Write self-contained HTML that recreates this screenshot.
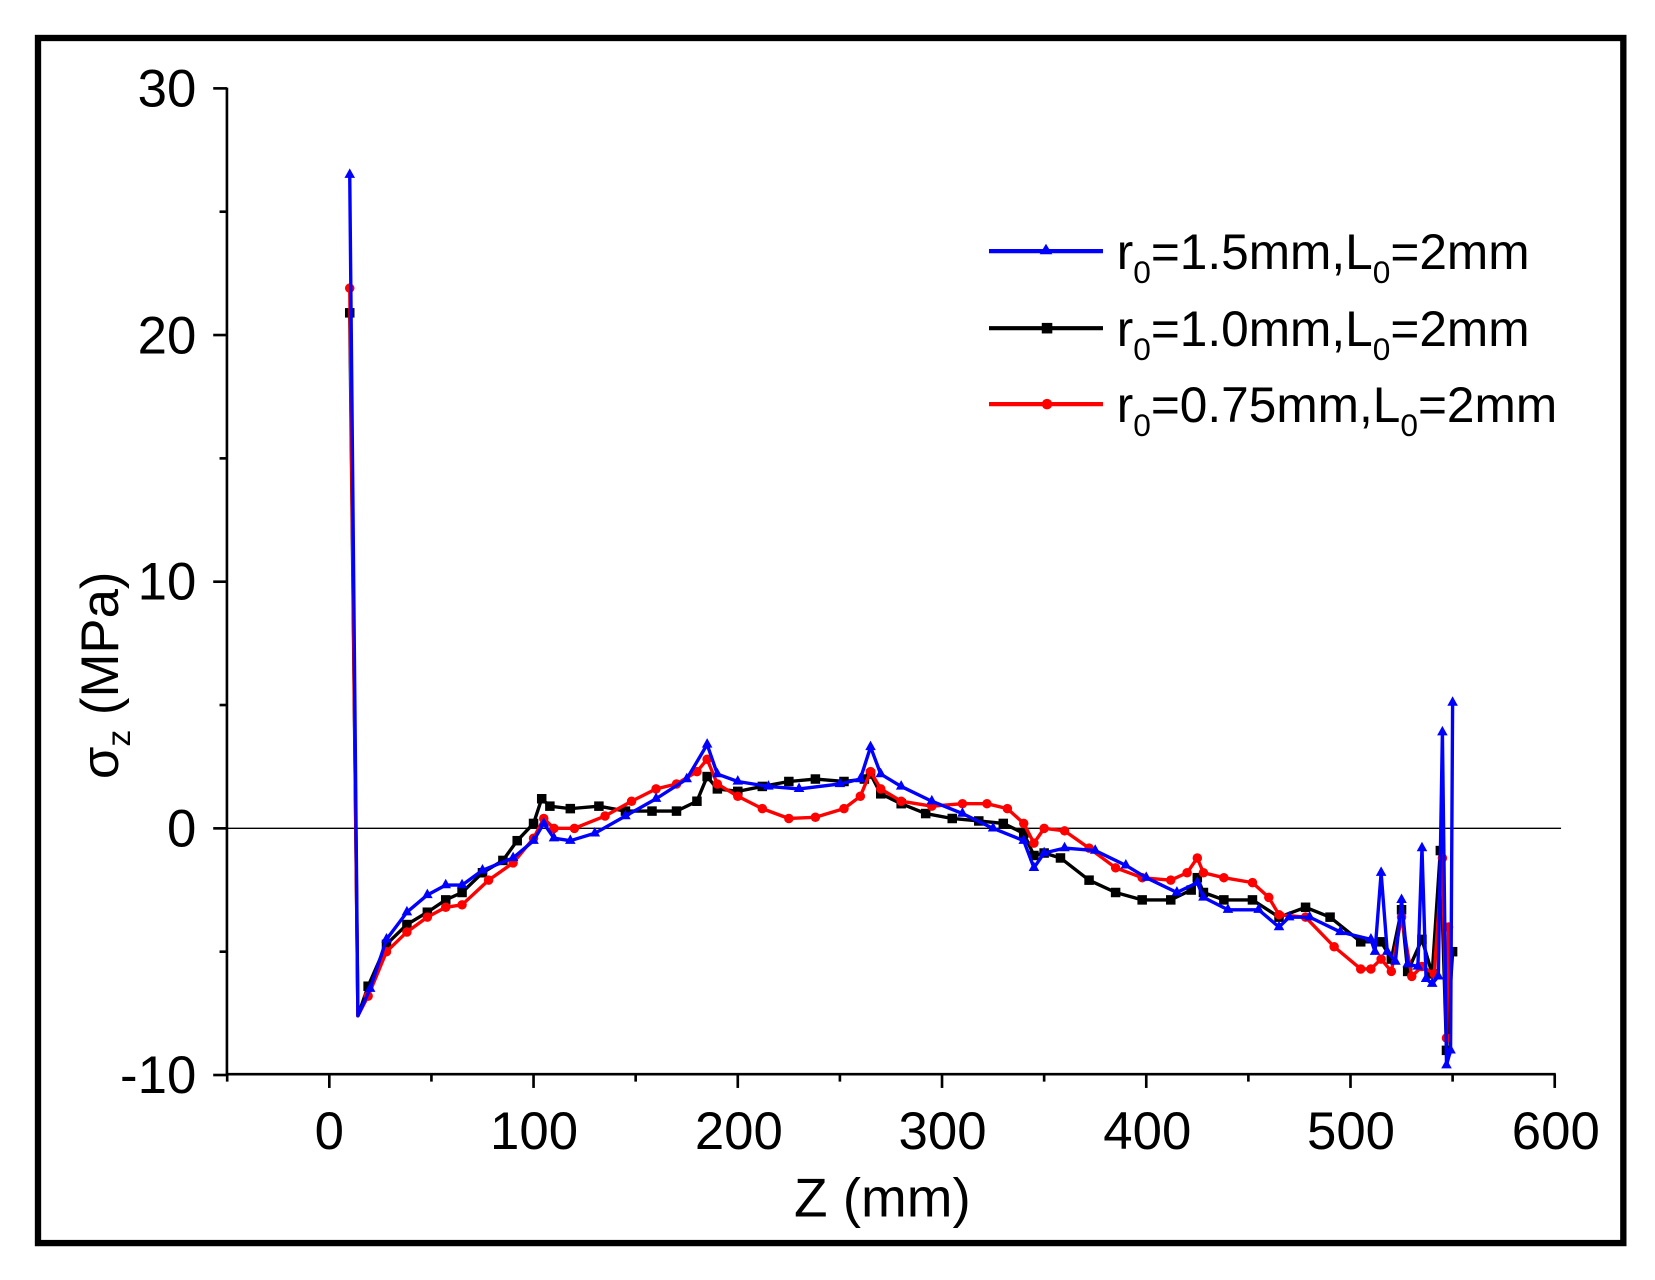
<!DOCTYPE html>
<html><head><meta charset="utf-8"><style>
html,body{margin:0;padding:0;background:#fff;width:1655px;height:1280px;overflow:hidden}
svg text{font-family:"Liberation Sans",sans-serif;fill:#000}
</style></head><body>
<svg id="s" width="1655" height="1280" viewBox="0 0 1568 1213" preserveAspectRatio="none" xmlns="http://www.w3.org/2000/svg">
<rect x="36" y="36" width="1502" height="1142" fill="none" stroke="#000" stroke-width="6"/>
<g id="ax" stroke="#000" stroke-width="2.5" fill="none"></g>
<line x1="215" y1="785" x2="1479" y2="785" stroke="#000" stroke-width="1.3"/>
<g id="data"></g>
<g font-size="50" text-anchor="end">
<text x="186" y="101">30</text><text x="186" y="335">20</text><text x="186" y="568">10</text><text x="186" y="802">0</text><text x="186" y="1036">-10</text>
</g>
<g font-size="50" text-anchor="middle">
<text x="312" y="1089">0</text><text x="506" y="1089">100</text><text x="700" y="1089">200</text><text x="893" y="1089">300</text><text x="1087" y="1089">400</text><text x="1280" y="1089">500</text><text x="1474" y="1089">600</text>
</g>
<text x="836" y="1153" font-size="52" text-anchor="middle">Z (mm)</text>
<text transform="translate(112,640) rotate(-90)" font-size="50" text-anchor="middle">σ<tspan font-size="32" dy="11">z</tspan><tspan dy="-11"> (MPa)</tspan></text>
<g font-size="47">
<line x1="937" y1="238" x2="1045" y2="238" stroke="#0000ff" stroke-width="4"/><path d="M991,231 l6,10 h-12z" fill="#0000ff"/>
<text x="1058" y="255">r<tspan font-size="30" dy="13">0</tspan><tspan dy="-13">=1.5mm,L</tspan><tspan font-size="30" dy="13">0</tspan><tspan dy="-13">=2mm</tspan></text>
<line x1="937" y1="311" x2="1045" y2="311" stroke="#000" stroke-width="4"/><rect x="987" y="306" width="10" height="10" fill="#000"/>
<text x="1058" y="328">r<tspan font-size="30" dy="13">0</tspan><tspan dy="-13">=1.0mm,L</tspan><tspan font-size="30" dy="13">0</tspan><tspan dy="-13">=2mm</tspan></text>
<line x1="937" y1="383" x2="1045" y2="383" stroke="#ff0000" stroke-width="4"/><circle cx="992" cy="383" r="5" fill="#ff0000"/>
<text x="1058" y="400">r<tspan font-size="30" dy="13">0</tspan><tspan dy="-13">=0.75mm,L</tspan><tspan font-size="30" dy="13">0</tspan><tspan dy="-13">=2mm</tspan></text>
</g>
</svg>
<script>
function px(z){return 312+1.935*z}function py(s){return 785-23.375*s}
var ax=document.getElementById('ax'),h='';
h+='<line x1="215" y1="83" x2="215" y2="1019"/><line x1="214" y1="1018" x2="1474" y2="1018"/>';
for(var v=-10;v<=30;v+=5){var y=py(v),L=(v%10==0)?13:7;h+='<line x1="'+(215-L)+'" y1="'+y+'" x2="215" y2="'+y+'"/>';}
for(var z=-50;z<=600;z+=50){var x=px(z),L=(z%100==0)?13:7;h+='<line x1="'+x+'" y1="1018" x2="'+x+'" y2="'+(1018+L)+'"/>';}
ax.innerHTML=h;
var blue=[[10,26.5],[14,-7.6],[20,-6.5],[28,-4.5],[38,-3.4],[48,-2.7],[57,-2.3],[65,-2.3],[75,-1.7],[90,-1.2],[100,-0.5],[105,0.2],[110,-0.4],[118,-0.5],[130,-0.2],[145,0.5],[160,1.2],[175,2],[185,3.4],[190,2.2],[200,1.9],[215,1.7],[230,1.6],[250,1.8],[260,2],[265,3.3],[270,2.2],[280,1.7],[295,1.1],[310,0.6],[325,0],[340,-0.5],[345,-1.6],[350,-1],[360,-0.8],[375,-0.9],[390,-1.5],[400,-2],[415,-2.6],[425,-2.2],[428,-2.8],[440,-3.3],[455,-3.3],[465,-4],[470,-3.6],[480,-3.6],[495,-4.2],[510,-4.5],[512,-5],[515,-1.8],[518,-5],[522,-5.4],[525,-2.9],[528,-5.5],[533,-5.6],[535,-0.8],[537,-6.1],[540,-6.3],[543,-6],[545,3.9],[547,-9.6],[549,-9],[550,5.1]];
var black=[[10,20.9],[14,-7.6],[19,-6.4],[28,-4.7],[38,-3.9],[48,-3.4],[57,-2.9],[65,-2.6],[75,-1.8],[85,-1.3],[92,-0.5],[100,0.2],[104,1.2],[108,0.9],[118,0.8],[132,0.9],[145,0.7],[158,0.7],[170,0.7],[180,1.1],[185,2.1],[190,1.6],[200,1.5],[212,1.7],[225,1.9],[238,2],[252,1.9],[262,2],[265,2.2],[270,1.4],[280,1.0],[292,0.6],[305,0.4],[318,0.3],[330,0.2],[340,-0.2],[345,-1.1],[350,-1],[358,-1.2],[372,-2.1],[385,-2.6],[398,-2.9],[412,-2.9],[422,-2.5],[425,-2.0],[428,-2.6],[438,-2.9],[452,-2.9],[465,-3.6],[478,-3.2],[490,-3.6],[505,-4.6],[515,-4.6],[520,-5.3],[525,-3.3],[528,-5.8],[535,-4.5],[540,-5.9],[544,-0.9],[547,-9],[550,-5]];
var red=[[10,21.9],[14,-7.6],[19,-6.8],[28,-5],[38,-4.2],[48,-3.6],[57,-3.2],[65,-3.1],[78,-2.1],[90,-1.4],[100,-0.4],[105,0.4],[110,0],[120,0],[135,0.5],[148,1.1],[160,1.6],[170,1.8],[180,2.3],[185,2.8],[190,1.8],[200,1.3],[212,0.8],[225,0.4],[238,0.45],[252,0.8],[260,1.3],[265,2.3],[270,1.6],[280,1.1],[295,0.9],[310,1.0],[322,1.0],[332,0.8],[340,0.2],[345,-0.6],[350,0],[360,-0.1],[372,-0.8],[385,-1.6],[398,-2.0],[412,-2.1],[420,-1.8],[425,-1.2],[428,-1.8],[438,-2.0],[452,-2.2],[460,-2.8],[465,-3.5],[478,-3.6],[492,-4.8],[505,-5.7],[510,-5.7],[515,-5.3],[520,-5.8],[525,-3.6],[530,-6],[535,-5.6],[541,-5.9],[545,-1.2],[547,-8.5],[548,-4]];
function draw(d,c,m){var s='<polyline fill="none" stroke="'+c+'" stroke-width="3.2" stroke-linejoin="round" points="'+d.map(function(p){return px(p[0])+','+py(p[1])}).join(' ')+'"/>';
d.forEach(function(p,i){if(i==1)return;var x=px(p[0]),y=py(p[1]);
if(m=='t')s+='<path d="M'+x+','+(y-6)+' l5,9 h-10z" fill="'+c+'"/>';
else if(m=='s')s+='<rect x="'+(x-4.5)+'" y="'+(y-4.5)+'" width="9" height="9" fill="'+c+'"/>';
else s+='<circle cx="'+x+'" cy="'+y+'" r="4.5" fill="'+c+'"/>';});return s;}
document.getElementById('data').innerHTML=draw(black,'#000','s')+draw(red,'#ff0000','c')+draw(blue,'#0000ff','t');
</script>
</body></html>
